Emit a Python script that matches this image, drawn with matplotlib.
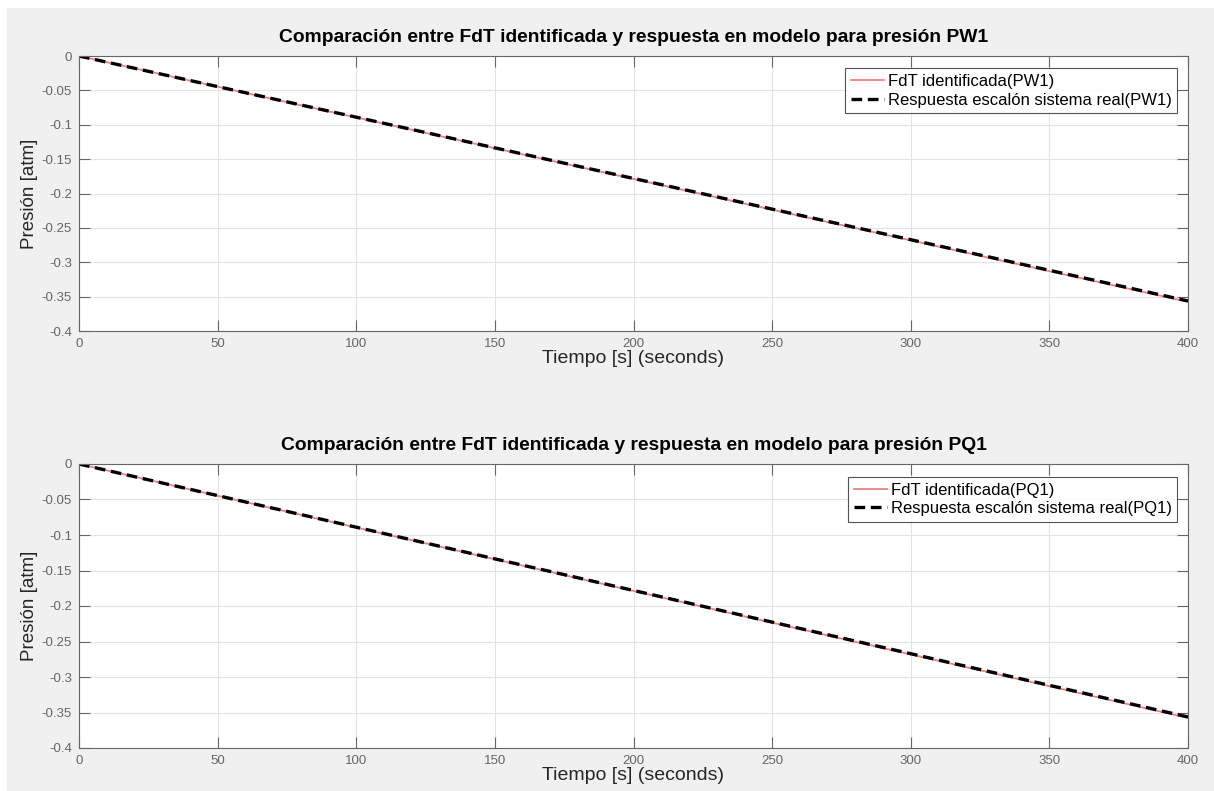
import numpy as np
import matplotlib
matplotlib.use("Agg")
import matplotlib.pyplot as plt
from matplotlib.patches import Rectangle

plt.rcParams['font.family'] = ['Liberation Sans', 'DejaVu Sans']

# both responses are practically a straight line
tiempo = [0, 50, 100, 150, 200, 250, 300, 350, 400]
fdt_pw1 = [0, -0.0447, -0.0894, -0.1341, -0.1788, -0.2235, -0.2682, -0.3129, -0.3576]
real_pw1 = [0, -0.0445, -0.0890, -0.1336, -0.1781, -0.2227, -0.2672, -0.3117, -0.3563]
fdt_pq1 = [0, -0.0447, -0.0894, -0.1341, -0.1788, -0.2235, -0.2682, -0.3129, -0.3576]
real_pq1 = [0, -0.0445, -0.0890, -0.1336, -0.1781, -0.2227, -0.2672, -0.3117, -0.3563]

xticks = [0, 50, 100, 150, 200, 250, 300, 350, 400]
yticks = [0, -0.05, -0.1, -0.15, -0.2, -0.25, -0.3, -0.35, -0.4]
ytick_labels = ['0', '-0.05', '-0.1', '-0.15', '-0.2', '-0.25', '-0.3', '-0.35', '-0.4']

series = [
    ('PW1', fdt_pw1, real_pw1),
    ('PQ1', fdt_pq1, real_pq1),
]

W, H = 1214, 791
fig = plt.figure(figsize=(W / 100, H / 100), dpi=100)
fig.patch.set_facecolor('#f0f0f0')
# white strips at the top and left edge of the screenshot
fig.add_artist(Rectangle((0, 1 - 8 / H), 1, 8 / H, transform=fig.transFigure,
                         facecolor='white', edgecolor='none'))
fig.add_artist(Rectangle((0, 0), 7 / W, 1, transform=fig.transFigure,
                         facecolor='white', edgecolor='none'))

# axes boxes in pixels: (left, top, right, bottom)
boxes = [(79, 56, 1188, 331), (79, 464, 1188, 748)]

gray = '#666666'
for (l, t, r, b), (name, fdt, real) in zip(boxes, series):
    ax = fig.add_axes([l / W, 1 - b / H, (r - l) / W, (b - t) / H])
    ax.plot(tiempo, fdt, color='#f08080', lw=1.3, label=f'FdT identificada({name})')
    ax.plot(tiempo, real, color='black', lw=2.4, ls=(0, (3.2, 1.7)),
            label=f'Respuesta escalón sistema real({name})')
    ax.set_xlim(0, 400)
    ax.set_ylim(-0.4, 0)
    ax.set_xticks(xticks)
    ax.set_yticks(yticks)
    ax.set_yticklabels(ytick_labels)
    ax.grid(True, color='#e3e3e3', lw=0.8)
    ax.set_axisbelow(True)
    ax.tick_params(direction='in', length=8, width=0.8, colors=gray,
                   labelsize=9.5, top=True, right=True, pad=5)
    for sp in ax.spines.values():
        sp.set_color(gray)
        sp.set_linewidth(0.8)
    ax.set_xlabel('Tiempo [s] (seconds)', fontsize=14, color='#262626', labelpad=0)
    ax.set_ylabel('Presión [atm]', fontsize=13.5, color='#262626', labelpad=3)
    ax.set_title(f'Comparación entre FdT identificada y respuesta en modelo para presión {name}',
                 fontsize=13.9, fontweight='bold', pad=10)
    leg = ax.legend(loc='upper right', bbox_to_anchor=(0.9905, 0.955), fontsize=12,
                    frameon=True, fancybox=False, handlelength=2.0,
                    borderpad=0.35, labelspacing=0.2, handletextpad=0.2,
                    borderaxespad=0)
    leg.get_frame().set_edgecolor('#262626')
    leg.get_frame().set_linewidth(0.8)

fig.savefig('out.png', dpi=100, facecolor=fig.get_facecolor())
